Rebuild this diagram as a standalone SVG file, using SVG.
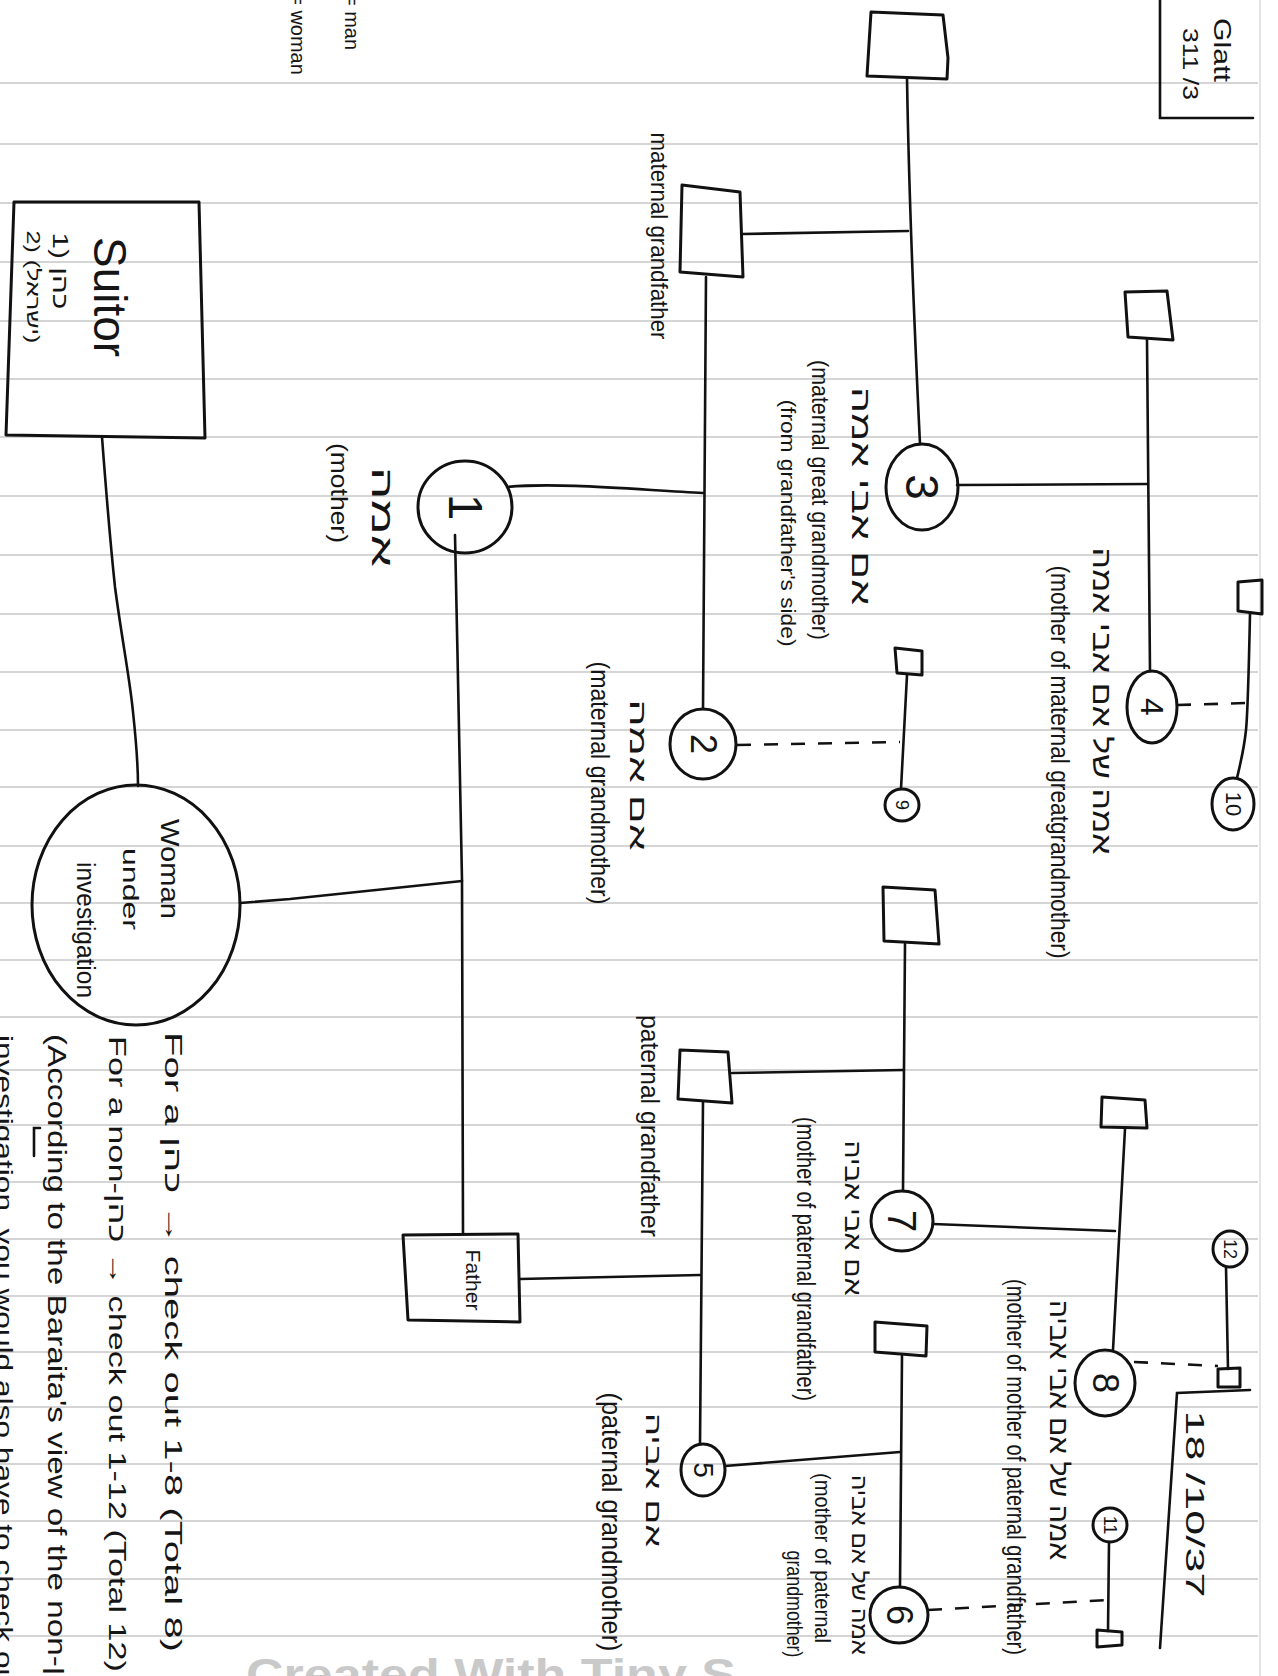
<svg xmlns="http://www.w3.org/2000/svg" width="1278" height="1676" viewBox="0 0 1278 1676">
<style>
.rule{stroke:#c8c8c8;stroke-width:1.3;fill:none}
.shape{fill:none;stroke:#111;stroke-width:3;stroke-linejoin:round}
.line{fill:none;stroke:#111;stroke-width:2.6;stroke-linecap:round}
.dash{fill:none;stroke:#111;stroke-width:2.6;stroke-dasharray:14 13}
text{font-family:"Liberation Sans","DejaVu Sans",sans-serif;fill:#151515}
.r{text-anchor:middle;dominant-baseline:central}
.wm{font-family:"Liberation Sans",sans-serif;font-weight:bold;fill:#c9c9c9}
</style>
<rect width="1278" height="1676" fill="#ffffff"/>
<g id="paper">
<path class="rule" d="M0 83H1258M0 144H1258M0 203H1258M0 262H1258M0 321H1258M0 379H1258M0 437H1258M0 496H1258M0 555H1258M0 614H1258M0 672H1258M0 730H1258M0 787H1258M0 846H1258M0 903H1258M0 960H1258M0 1017H1258M0 1070H1258M0 1125H1258M0 1182H1258M0 1239H1258M0 1296H1258M0 1352H1258M0 1407H1258M0 1464H1258M0 1521H1258M0 1579H1258M0 1636H1258"/>
<path d="M1260 0V1676" stroke="#dcdcdc" stroke-width="1.5" fill="none"/>
</g>
<g id="legend">
<text class="r" font-size="20" transform="translate(352,22) rotate(90)">= man</text>
<text class="r" font-size="20" transform="translate(298,34) rotate(90)">= woman</text>
</g>
<g id="glatt">
<path class="line" d="M1160 0V118H1253"/>
<text class="r" font-size="24" textLength="64" lengthAdjust="spacingAndGlyphs" transform="translate(1222,50) rotate(90)">Glatt</text>
<text class="r" font-size="22" textLength="72" lengthAdjust="spacingAndGlyphs" transform="translate(1190,64) rotate(90)">311 /3</text>
</g>
<g id="connectors">
<path class="line" d="M907 78 C909 200 914 320 920 444"/>
<path class="line" d="M743 234 L908 231"/>
<path class="line" d="M957 485 L1148 484"/>
<path class="line" d="M1147 340 C1148 450 1149 560 1150 671"/>
<path class="dash" d="M1177 705 L1247 703"/>
<path class="line" d="M1250 614 C1249 660 1248 710 1246 730 C1244 750 1240 765 1237 778"/>
<path class="line" d="M507 487 C560 482 640 490 703 493"/>
<path class="line" d="M706 277 C705 420 704 560 703 709"/>
<path class="dash" d="M737 745 L900 742"/>
<path class="line" d="M907 675 L901 789"/>
<path class="line" d="M455 535 C457 650 461 780 462 880 C462 1000 463 1120 463 1233"/>
<path class="line" d="M240 903 L290 899 L462 881"/>
<path class="line" d="M102 437 C106 490 110 540 115 587 C122 640 130 680 133 712 C136 740 138 765 138 786"/>
<path class="line" d="M520 1279 L700 1275"/>
<path class="line" d="M703 1102 L700 1444"/>
<path class="line" d="M725 1466 L900 1452"/>
<path class="line" d="M732 1073 L903 1070"/>
<path class="line" d="M905 944 L903 1191"/>
<path class="line" d="M933 1224 L1115 1231"/>
<path class="line" d="M1125 1129 L1113 1350"/>
<path class="dash" d="M1134 1362 L1218 1366"/>
<path class="line" d="M1226 1267 L1228 1369"/>
<path class="line" d="M902 1356 L900 1587"/>
<path class="dash" d="M928 1610 L1108 1600"/>
<path class="line" d="M1109 1542 L1108 1631"/>
</g>
<g id="n-top-square"><path class="shape" d="M871 12 L943 15 L948 58 L947 79 L867 76 Z"/></g>
<g id="n-maternal-grandfather">
<path class="shape" d="M682 185 L740 192 L743 277 L680 272 Z"/>
<text class="r" font-size="24" textLength="207" lengthAdjust="spacingAndGlyphs" transform="translate(659,236) rotate(90)">maternal grandfather</text>
</g>
<g id="n3">
<ellipse class="shape" cx="922" cy="487" rx="36" ry="43"/>
<text class="r" font-size="46" transform="translate(922,487) rotate(90)">3</text>
<text class="r" font-size="26" textLength="218" lengthAdjust="spacingAndGlyphs" transform="translate(861,496) rotate(90)">אם אבי אמה</text>
<text class="r" font-size="24" textLength="280" lengthAdjust="spacingAndGlyphs" transform="translate(820,500) rotate(90)">(maternal great grandmother)</text>
<text class="r" font-size="20" textLength="247" lengthAdjust="spacingAndGlyphs" transform="translate(788,523) rotate(90)">(from grandfather's side)</text>
</g>
<g id="n4-father"><path class="shape" d="M1125 292 L1167 291 L1173 340 L1128 337 Z"/></g>
<g id="n4">
<ellipse class="shape" cx="1152" cy="707" rx="25" ry="36"/>
<text class="r" font-size="32" transform="translate(1152,707) rotate(90)">4</text>
<text class="r" font-size="26" textLength="307" lengthAdjust="spacingAndGlyphs" transform="translate(1102,701) rotate(90)">אמה של אם אבי אמה</text>
<text class="r" font-size="26" textLength="393" lengthAdjust="spacingAndGlyphs" transform="translate(1060,762) rotate(90)">(mother of maternal greatgrandmother)</text>
</g>
<g id="n10-father"><path class="shape" d="M1238 582 L1262 580 L1262 614 L1238 611 Z"/></g>
<g id="n10">
<ellipse class="shape" cx="1233" cy="804" rx="21" ry="26"/>
<text class="r" font-size="22" transform="translate(1233,804) rotate(90)">10</text>
</g>
<g id="n9-father"><path class="shape" d="M895 648 L922 651 L922 675 L897 673 Z"/></g>
<g id="n9">
<ellipse class="shape" cx="902" cy="805" rx="17" ry="16"/>
<text class="r" font-size="18" transform="translate(902,805) rotate(90)">9</text>
</g>
<g id="n1">
<ellipse class="shape" cx="465" cy="507" rx="47" ry="46"/>
<text class="r" font-size="48" transform="translate(465,507) rotate(90)">1</text>
<text class="r" font-size="30" textLength="100" lengthAdjust="spacingAndGlyphs" transform="translate(382,517) rotate(90)">אמה</text>
<text class="r" font-size="24" textLength="100" lengthAdjust="spacingAndGlyphs" transform="translate(339,493) rotate(90)">(mother)</text>
</g>
<g id="n2">
<ellipse class="shape" cx="703" cy="744" rx="33" ry="35"/>
<text class="r" font-size="36" transform="translate(703,744) rotate(90)">2</text>
<text class="r" font-size="24" textLength="151" lengthAdjust="spacingAndGlyphs" transform="translate(638,775) rotate(90)">אם אמה</text>
<text class="r" font-size="26" textLength="243" lengthAdjust="spacingAndGlyphs" transform="translate(600,783) rotate(90)">(maternal grandmother)</text>
</g>
<g id="n-suitor">
<path class="shape" d="M14 202 L199 202 L205 438 L6 435 Z"/>
<text class="r" font-size="46" textLength="120" lengthAdjust="spacingAndGlyphs" transform="translate(110,297) rotate(90)">Suitor</text>
<text class="r" font-size="22" textLength="77" lengthAdjust="spacingAndGlyphs" transform="translate(60,271) rotate(90)">1) כהן</text>
<text class="r" font-size="18" textLength="113" lengthAdjust="spacingAndGlyphs" transform="translate(33,287) rotate(90)">2) (ישראל)</text>
</g>
<g id="n-woman">
<ellipse class="shape" cx="136" cy="905" rx="104" ry="120"/>
<text class="r" font-size="26" textLength="100" lengthAdjust="spacingAndGlyphs" transform="translate(170,869) rotate(90)">Woman</text>
<text class="r" font-size="22" textLength="82" lengthAdjust="spacingAndGlyphs" transform="translate(130,889) rotate(90)">under</text>
<text class="r" font-size="26" textLength="136" lengthAdjust="spacingAndGlyphs" transform="translate(86,930) rotate(90)">investigation</text>
</g>
<g id="n-father">
<path class="shape" d="M403 1235 L518 1234 L520 1322 L408 1320 Z"/>
<text class="r" font-size="20" textLength="61" lengthAdjust="spacingAndGlyphs" transform="translate(473,1280) rotate(90)">Father</text>
</g>
<g id="n-paternal-grandfather">
<path class="shape" d="M680 1050 L728 1052 L732 1103 L678 1099 Z"/>
<text class="r" font-size="26" textLength="222" lengthAdjust="spacingAndGlyphs" transform="translate(650,1126) rotate(90)">paternal grandfather</text>
</g>
<g id="n7-father"><path class="shape" d="M883 887 L935 890 L939 944 L884 941 Z"/></g>
<g id="n7">
<ellipse class="shape" cx="902" cy="1221" rx="31" ry="30"/>
<text class="r" font-size="40" transform="translate(902,1221) rotate(90)">7</text>
<text class="r" font-size="24" textLength="155" lengthAdjust="spacingAndGlyphs" transform="translate(853,1218) rotate(90)">אם אבי אביה</text>
<text class="r" font-size="26" textLength="284" lengthAdjust="spacingAndGlyphs" transform="translate(806,1259) rotate(90)">(mother of paternal grandfather)</text>
</g>
<g id="n5">
<ellipse class="shape" cx="703" cy="1470" rx="22" ry="26"/>
<text class="r" font-size="28" transform="translate(703,1470) rotate(90)">5</text>
<text class="r" font-size="22" textLength="134" lengthAdjust="spacingAndGlyphs" transform="translate(653,1480) rotate(90)">אם אביה</text>
<text class="r" font-size="28" textLength="259" lengthAdjust="spacingAndGlyphs" transform="translate(611,1522) rotate(90)">(paternal grandmother)</text>
</g>
<g id="n8-father"><path class="shape" d="M1102 1097 L1145 1100 L1147 1128 L1101 1127 Z"/></g>
<g id="n8">
<ellipse class="shape" cx="1105" cy="1383" rx="30" ry="33"/>
<text class="r" font-size="36" transform="translate(1105,1383) rotate(90)">8</text>
<text class="r" font-size="26" textLength="260" lengthAdjust="spacingAndGlyphs" transform="translate(1059,1430) rotate(90)">אמה של אם אבי אביה</text>
<text class="r" font-size="26" textLength="376" lengthAdjust="spacingAndGlyphs" transform="translate(1016,1467) rotate(90)">(mother of mother of paternal grandfather)</text>
</g>
<g id="n12">
<ellipse class="shape" cx="1230" cy="1249" rx="17" ry="18"/>
<text class="r" font-size="18" transform="translate(1230,1249) rotate(90)">12</text>
</g>
<g id="n12-father"><path class="shape" d="M1218 1369 L1240 1368 L1240 1387 L1218 1387 Z"/></g>
<g id="n6-father"><path class="shape" d="M875 1322 L927 1326 L926 1356 L875 1352 Z"/></g>
<g id="n6">
<ellipse class="shape" cx="899" cy="1615" rx="29" ry="28"/>
<text class="r" font-size="36" transform="translate(899,1615) rotate(90)">6</text>
<text class="r" font-size="22" textLength="180" lengthAdjust="spacingAndGlyphs" transform="translate(859,1565) rotate(90)">אמה של אם אביה</text>
<text class="r" font-size="22" textLength="170" lengthAdjust="spacingAndGlyphs" transform="translate(822,1558) rotate(90)">(mother of paternal</text>
<text class="r" font-size="22" textLength="107" lengthAdjust="spacingAndGlyphs" transform="translate(794,1604) rotate(90)">grandmother)</text>
</g>
<g id="n11">
<ellipse class="shape" cx="1110" cy="1525" rx="17" ry="17"/>
<text class="r" font-size="18" transform="translate(1110,1525) rotate(90)">11</text>
</g>
<g id="n11-father"><path class="shape" d="M1097 1630 L1122 1632 L1122 1645 L1097 1647 Z"/></g>
<g id="ref-box">
<path class="line" d="M1250 1390 L1177 1393 L1160 1648"/>
<text class="r" font-size="26" textLength="187" lengthAdjust="spacingAndGlyphs" transform="translate(1195,1504) rotate(90)">18 /10/37</text>
</g>
<g id="notes">
<text class="r" font-size="24" textLength="620" lengthAdjust="spacingAndGlyphs" transform="translate(173,1342) rotate(90)">For a כהן → check out 1-8 (Total 8)</text>
<text class="r" font-size="24" textLength="636" lengthAdjust="spacingAndGlyphs" transform="translate(117,1354) rotate(90)">For a non-כהן → check out 1-12 (Total 12)</text>
<text class="r" font-size="26" textLength="680" lengthAdjust="spacingAndGlyphs" transform="translate(57,1374) rotate(90)">(According to the Baraita's view of the non-כהן</text>
<path class="line" d="M40 1128 L34 1128 L34 1156" stroke-width="2"/>
<text class="r" font-size="24" textLength="660" lengthAdjust="spacingAndGlyphs" transform="translate(4,1365) rotate(90)">investigation, you would also have to check out</text>
</g>
<g id="watermark">
<text class="wm" font-size="44" textLength="490" lengthAdjust="spacingAndGlyphs" x="246" y="1690">Created With Tiny S</text>
</g>
</svg>
